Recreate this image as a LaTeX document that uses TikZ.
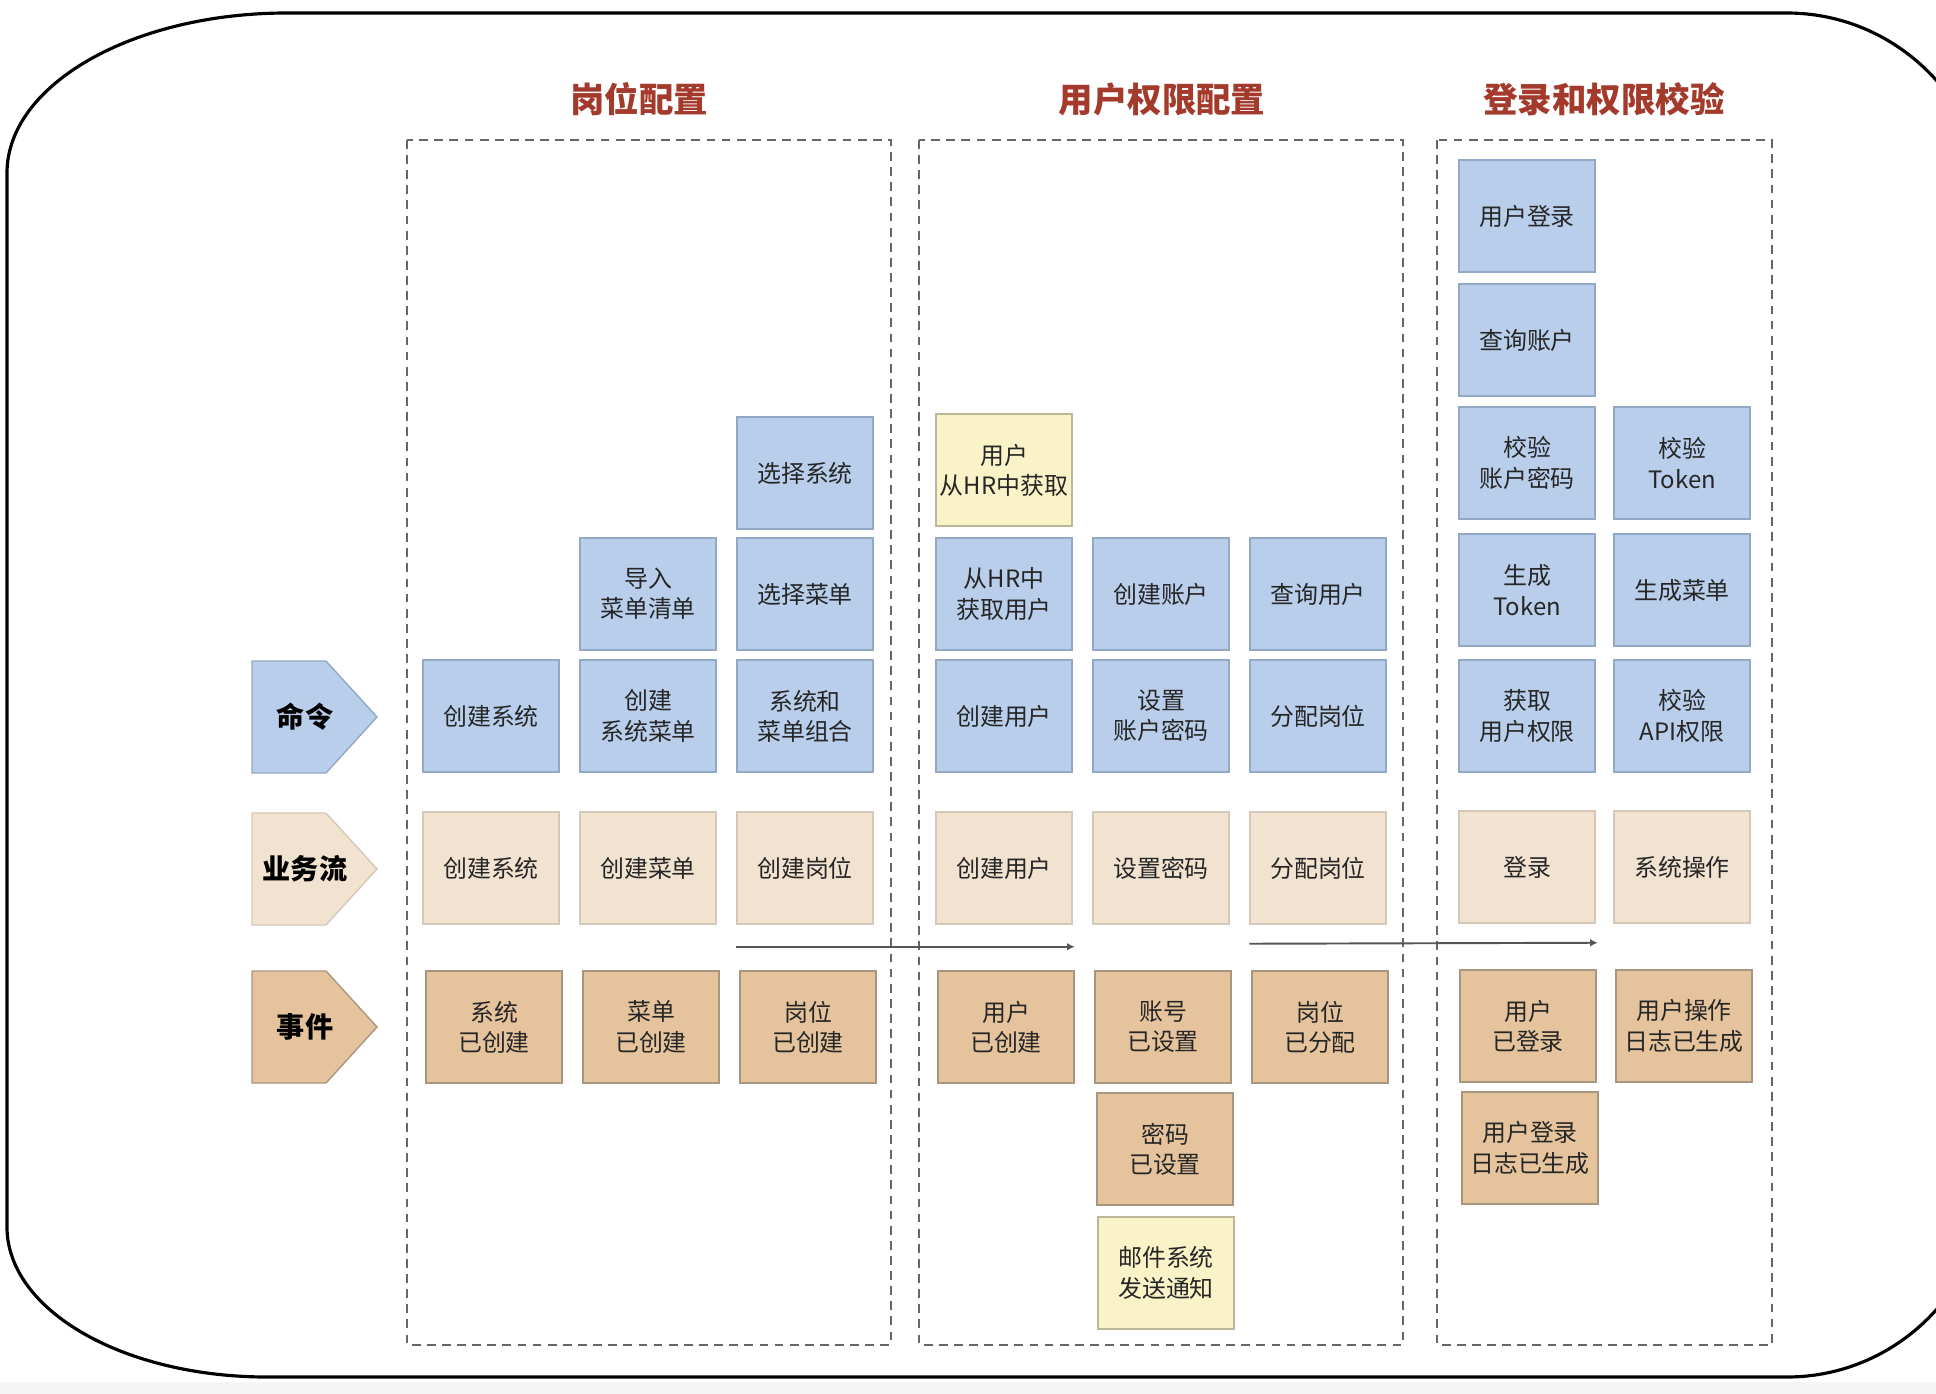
\documentclass[tikz,border=0pt]{standalone}
\usepackage{fontspec}
\setmainfont{Noto Sans CJK SC}
\usetikzlibrary{arrows.meta}
\definecolor{cmdfill}{HTML}{B8CEEB}
\definecolor{cmdline}{HTML}{93A8C5}
\definecolor{flowfill}{HTML}{F2E2D0}
\definecolor{flowline}{HTML}{D6C8B8}
\definecolor{evtfill}{HTML}{E5C49D}
\definecolor{evtline}{HTML}{A8967F}
\definecolor{extfill}{HTML}{FAF3C8}
\definecolor{extline}{HTML}{BDB799}
\definecolor{titlered}{HTML}{A33A2B}
\definecolor{lanegray}{HTML}{666666}
\definecolor{arrgray}{HTML}{555555}
\definecolor{txt}{HTML}{262626}
\begin{document}
\begin{tikzpicture}[x=0.01cm,y=-0.01cm,
  card/.style={minimum width=1.36cm,minimum height=1.12cm,inner sep=0pt,align=center,
    font=\fontsize{6.8}{8.6}\selectfont,text=txt,line width=0.4pt},
  cmd/.style={card,fill=cmdfill,draw=cmdline},
  flow/.style={card,fill=flowfill,draw=flowline},
  evt/.style={card,fill=evtfill,draw=evtline},
  ext/.style={card,fill=extfill,draw=extline},
  lane/.style={draw=lanegray,line width=0.45pt,dash pattern=on 2.5pt off 1.8pt},
  title/.style={font=\fontsize{9.8}{12}\selectfont\bfseries,text=titlered},
  tagtext/.style={font=\fontsize{8}{10}\selectfont\bfseries,text=black},
  frame/.style={line width=0.9pt,black},
  flowarrow/.style={-{Latex[length=2.2pt,width=2.2pt]},line width=0.55pt,draw=arrgray}]
\useasboundingbox (0,0) rectangle (1936,1394);
\clip (0,0) rectangle (1936,1394);
\fill[black!4] (0,1382) rectangle (1936,1394);
% hand drawn outer frame, right side runs off the page
\draw[frame] (287,13) -- (1787,13) .. controls (1897,13) and (1987,103) .. (1987,213)
  -- (1987,1177) .. controls (1987,1287) and (1897,1377) .. (1787,1377)
  -- (267,1377) .. controls (123,1377) and (7,1310) .. (7,1227)
  -- (7,173) .. controls (7,85) and (132,13) .. cycle;
% swim lanes
\draw[lane] (407,140) rectangle (891,1345);
\draw[lane] (919,140) rectangle (1403,1345);
\draw[lane] (1437,140) rectangle (1772,1345);
\node[title] (ttlPost) at (639,99) {岗位配置};
\node[title] (ttlUser) at (1162,99) {用户权限配置};
\node[title] (ttlLogin) at (1604,99) {登录和权限校验};
% row tags
\foreach \name/\lbl/\yy/\col/\edge in {tagCmd/命令/717/cmdfill/cmdline,
    tagFlow/业务流/869/flowfill/flowline,tagEvt/事件/1027/evtfill/evtline} {
  \draw[line width=0.4pt,draw=\edge,fill=\col] (252,\yy-56) -- (326,\yy-56) -- (377,\yy)
    -- (326,\yy+56) -- (252,\yy+56) -- cycle;
  \node[tagtext] (\name) at (305,\yy) {\lbl};
}
% lane 1: post setup
\node[cmd] (selSys) at (805,473) {选择系统};
\node[cmd] (impMenu) at (648,594) {导入\\菜单清单};
\node[cmd] (selMenu) at (805,594) {选择菜单};
\node[cmd] (newSys) at (491,716) {创建系统};
\node[cmd] (newSysMenu) at (648,716) {创建\\系统菜单};
\node[cmd] (combSys) at (805,716) {系统和\\菜单组合};
\node[flow] (flSys) at (491,868) {创建系统};
\node[flow] (flMenu) at (648,868) {创建菜单};
\node[flow] (flPost) at (805,868) {创建岗位};
\node[evt] (evSys) at (494,1027) {系统\\已创建};
\node[evt] (evMenu) at (651,1027) {菜单\\已创建};
\node[evt] (evPost) at (808,1027) {岗位\\已创建};
% lane 2: user permissions
\node[ext] (hrUser) at (1004,470) {用户\\从HR中获取};
\node[cmd] (fetchHr) at (1004,594) {从HR中\\获取用户};
\node[cmd] (newAcct) at (1161,594) {创建账户};
\node[cmd] (qryUser) at (1318,594) {查询用户};
\node[cmd] (newUser) at (1004,716) {创建用户};
\node[cmd] (setPwd) at (1161,716) {设置\\账户密码};
\node[cmd] (asgPost) at (1318,716) {分配岗位};
\node[flow] (flUser) at (1004,868) {创建用户};
\node[flow] (flPwd) at (1161,868) {设置密码};
\node[flow] (flAsg) at (1318,868) {分配岗位};
\node[evt] (evUser) at (1006,1027) {用户\\已创建};
\node[evt] (evAcct) at (1163,1027) {账号\\已设置};
\node[evt] (evAsg) at (1320,1027) {岗位\\已分配};
\node[evt] (evPwd) at (1165,1149) {密码\\已设置};
\node[ext] (mailNote) at (1166,1273) {邮件系统\\发送通知};
% lane 3: login and checks
\node[cmd] (login) at (1527,216) {用户登录};
\node[cmd] (qryAcct) at (1527,340) {查询账户};
\node[cmd] (chkPwd) at (1527,463) {校验\\账户密码};
\node[cmd] (chkTok) at (1682,463) {校验\\Token};
\node[cmd] (genTok) at (1527,590) {生成\\Token};
\node[cmd] (genMenu) at (1682,590) {生成菜单};
\node[cmd] (getPerm) at (1527,716) {获取\\用户权限};
\node[cmd] (chkApi) at (1682,716) {校验\\API权限};
\node[flow] (flLogin) at (1527,867) {登录};
\node[flow] (flOper) at (1682,867) {系统操作};
\node[evt] (evLogin) at (1528,1026) {用户\\已登录};
\node[evt] (evOpLog) at (1684,1026) {用户操作\\日志已生成};
\node[evt] (evLoginLog) at (1530,1148) {用户登录\\日志已生成};
% flow between lanes
\draw[flowarrow] ([yshift=-0.22cm]flPost.south west) -- ([yshift=-0.22cm,xshift=0.02cm]flUser.south east);
\draw[flowarrow] ([yshift=-0.19cm]flAsg.south west) -- ([yshift=-0.19cm,xshift=0.02cm]flLogin.south east);
\end{tikzpicture}
\end{document}
